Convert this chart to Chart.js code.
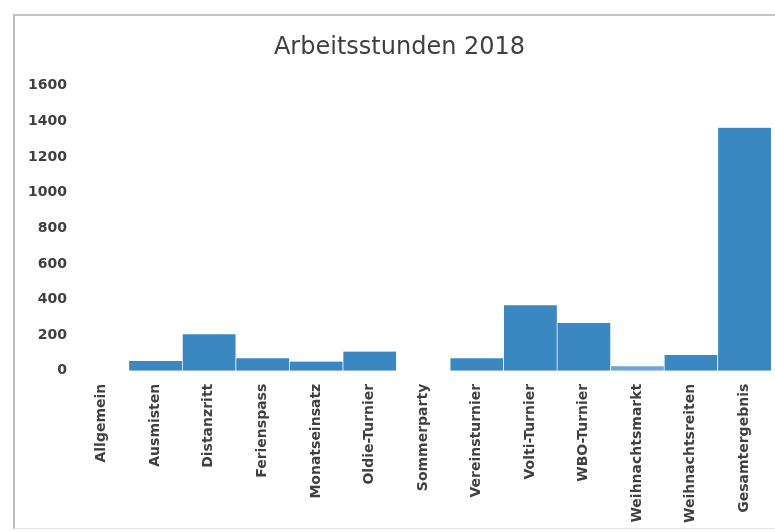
<!DOCTYPE html>
<html>
<head>
<meta charset="utf-8">
<script src="https://cdn.jsdelivr.net/npm/chart.js@4"></script>
<style>
  html, body { margin: 0; padding: 0; background: #fff; overflow: hidden; }
  #wrap { position: relative; width: 775px; height: 532px; overflow: hidden; }
  #frame {
    position: absolute; left: 13px; top: 14px; width: 820px; height: 512px;
    border-left: 2px solid #bdbdbd; border-top: 2px solid #c6c6c6;
    border-bottom: 1px solid #e6e6e6;
  }
  canvas { position: absolute; left: 0; top: 0; }
</style>
</head>
<body>
<div id="wrap">
  <div id="frame"></div>
  <canvas id="chart" width="775" height="532"></canvas>
</div>
<script>
// Kategorien und Werte
const kategorien = ['Allgemein', 'Ausmisten', 'Distanzritt', 'Ferienspass', 'Monatseinsatz',
  'Oldie-Turnier', 'Sommerparty', 'Vereinsturnier', 'Volti-Turnier', 'WBO-Turnier',
  'Weihnachtsmarkt', 'Weihnachtsreiten', 'Gesamtergebnis'];
const stunden = [0, 55, 205, 70, 52, 108, 0, 70, 368, 268, 25, 89, 1365];
const yTicks = [0, 200, 400, 600, 800, 1000, 1200, 1400, 1600];

const FARBEN = {
  balken: '#3a87c1',
  balkenHell: '#6ea5d5',
  text: '#404040'
};

new Chart(document.getElementById('chart'), {
  type: 'bar',
  data: {
    labels: kategorien,
    datasets: [{
      label: 'Arbeitsstunden',
      data: stunden,
      backgroundColor: (ctx) => kategorien[ctx.dataIndex] === 'Weihnachtsmarkt' ? FARBEN.balkenHell : FARBEN.balken,
      borderColor: 'rgba(255,255,255,0.45)',
      borderWidth: { left: 1, right: 0, top: 0, bottom: 0 },
      borderSkipped: false,
      barPercentage: 1,
      categoryPercentage: 1
    }]
  },
  options: {
    responsive: false,
    animation: false,
    layout: { padding: { left: 28, right: 4, top: 15, bottom: 4 } },
    plugins: {
      legend: { display: false },
      tooltip: { enabled: false },
      title: {
        display: true,
        text: 'Arbeitsstunden 2018',
        color: FARBEN.text,
        font: { family: 'DejaVu Sans', size: 24, weight: 'normal' },
        padding: { top: 18, bottom: 24 }
      }
    },
    scales: {
      x: {
        grid: { display: false },
        border: { display: false },
        ticks: {
          color: FARBEN.text,
          font: { family: 'DejaVu Sans', size: 14, weight: 'bold' },
          minRotation: 90,
          maxRotation: 90,
          autoSkip: false,
          padding: 5
        }
      },
      y: {
        min: 0,
        max: 1600,
        grid: { display: false },
        border: { display: false },
        afterBuildTicks: (axis) => { axis.ticks = yTicks.map(v => ({ value: v })); },
        ticks: {
          color: FARBEN.text,
          font: { family: 'DejaVu Sans', size: 14, weight: 'bold' },
          padding: 0,
          callback: (v) => String(v)
        }
      }
    }
  }
});
</script>
</body>
</html>
